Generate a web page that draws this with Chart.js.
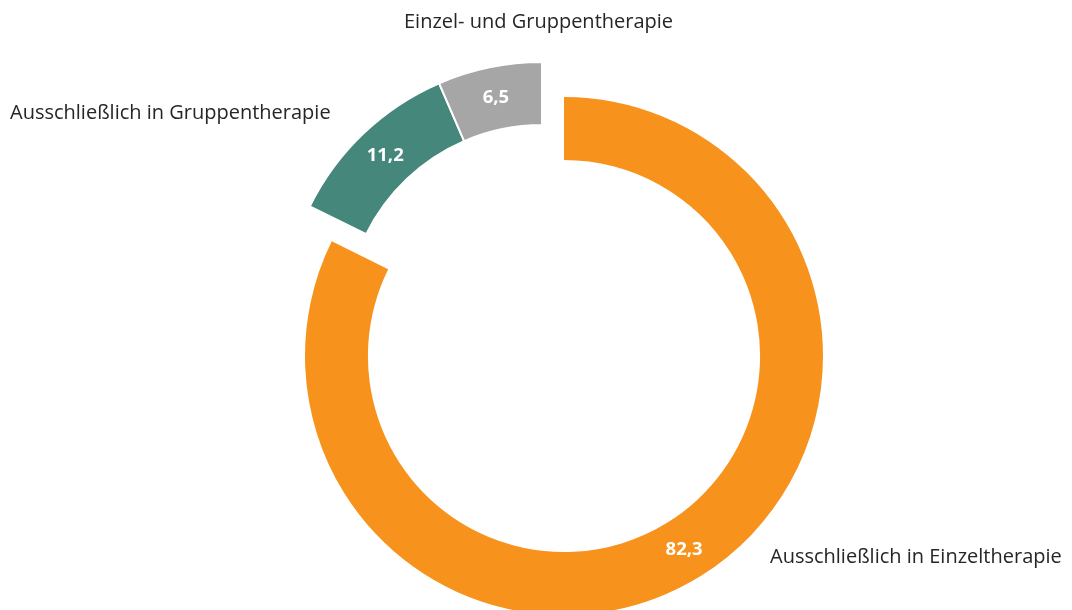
<!DOCTYPE html>
<html lang="de">
<head>
<meta charset="utf-8">
<script src="https://cdn.jsdelivr.net/npm/chart.js@4/dist/chart.umd.min.js"></script>
<style>
  html, body { margin: 0; padding: 0; background: #fff; }
  #wrap { width: 1072px; height: 610px; position: relative; }
</style>
</head>
<body>
<div id="wrap"><canvas id="c"></canvas></div>
<script>
// Anteile in Prozent
const categories = [
  'Ausschließlich in Einzeltherapie',
  'Ausschließlich in Gruppentherapie',
  'Einzel- und Gruppentherapie',
];
const values = [82.3, 11.2, 6.5];
const colors = ['#F7931D', '#45877B', '#A6A6A6'];

const FONT = '"Open Sans", Lato, sans-serif';
const fmt = (v) => v.toFixed(1).replace('.', ',');

// Gruppen- und Kombi-Segment gemeinsam herausgerückt
const explode = {
  id: 'explode',
  afterDatasetsUpdate(chart) {
    const meta = chart.getDatasetMeta(0);
    [1, 2].forEach(i => {
      const a = meta.data[i];
      a.x -= 22;
      a.y -= 35;
    });
  },
};

const labels = {
  id: 'labels',
  afterDatasetsDraw(chart) {
    const { ctx } = chart;
    const meta = chart.getDatasetMeta(0);
    ctx.save();
    // Werte in den Segmenten
    ctx.fillStyle = '#fff';
    ctx.font = 'bold 18.5px ' + FONT;
    ctx.textAlign = 'center';
    ctx.textBaseline = 'middle';
    meta.data.forEach((a, i) => {
      const p = a.getProps(['x', 'y', 'startAngle', 'endAngle', 'innerRadius', 'outerRadius'], true);
      const mid = (p.startAngle + p.endAngle) / 2;
      const r = (p.innerRadius + p.outerRadius) / 2;
      ctx.fillText(fmt(values[i]), p.x + Math.cos(mid) * r, p.y + Math.sin(mid) * r);
    });
    // Kategorien aussen
    const c = meta.data[0];
    const cx = c.x, cy = c.y;
    ctx.fillStyle = '#262626';
    ctx.font = '20px ' + FONT;
    ctx.textAlign = 'left';
    ctx.fillText(categories[0], cx + 206, cy + 201);
    ctx.fillText(categories[1], cx - 554, cy - 243);
    ctx.fillText(categories[2], cx - 160, cy - 334);
    ctx.restore();
  },
};

new Chart(document.getElementById('c'), {
  type: 'doughnut',
  data: {
    labels: categories,
    datasets: [{
      data: values,
      backgroundColor: colors,
      borderColor: '#fff',
      borderWidth: [0, 2, 2],
    }],
  },
  options: {
    responsive: true,
    maintainAspectRatio: false,
    animation: false,
    events: [],
    radius: 259,
    cutout: '75.7%',
    layout: { padding: { left: 56, top: 102, right: 0, bottom: 0 } },
    plugins: {
      legend: { display: false },
      tooltip: { enabled: false },
    },
  },
  plugins: [explode, labels],
});
</script>
</body>
</html>
